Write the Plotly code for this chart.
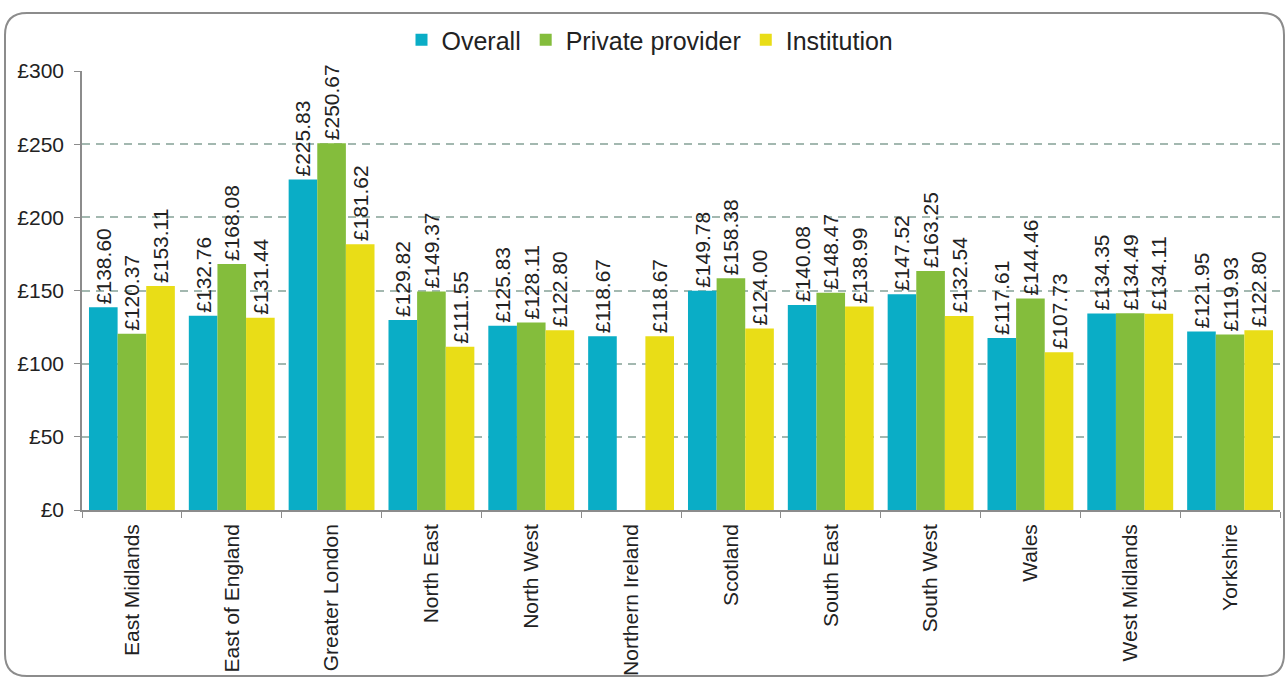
import plotly.graph_objects as go

regions = ["East Midlands", "East of England", "Greater London", "North East", "North West",
           "Northern Ireland", "Scotland", "South East", "South West", "Wales",
           "West Midlands", "Yorkshire"]
overall = [138.60, 132.76, 225.83, 129.82, 125.83, 118.67, 149.78, 140.08, 147.52, 117.61, 134.35, 121.95]
private_provider = [120.37, 168.08, 250.67, 149.37, 128.11, None, 158.38, 148.47, 163.25, 144.46, 134.49, 119.93]
institution = [153.11, 131.44, 181.62, 111.55, 122.80, 118.67, 124.00, 138.99, 132.54, 107.73, 134.11, 122.80]
y_ticks = [0, 50, 100, 150, 200, 250, 300]
y_ticktext = ["£0", "£50", "£100", "£150", "£200", "£250", "£300"]

series = [("Overall", overall, "#0AADC6"),
          ("Private provider", private_provider, "#84BD3C"),
          ("Institution", institution, "#E9DD17")]

W, H = 1286, 679
L, R, T, B = 82, 6, 71, 169
pw, ph = W - L - R, H - T - B

fig = go.Figure()
for name, vals, col in series:
    fig.add_trace(go.Bar(
        name=name, x=regions, y=vals, marker=dict(color=col, line=dict(width=0)),
        text=[("£%.2f" % v) if v is not None else "" for v in vals],
        textposition="outside", textangle=-90, cliponaxis=False, constraintext="none",
        textfont=dict(family="Liberation Sans, Arial", size=21, color="#222222"),
    ))

def px2paper(x, y):
    return (x - L) / pw, (H - B - y) / ph

# rounded border
x0, y0, x1, y1, r = 5, 13, 1284, 676, 22
def P(x, y):
    a, b = px2paper(x, y)
    return f"{a:.5f},{b:.5f}"
path = (f"M {P(x0 + r, y0)} L {P(x1 - r, y0)} Q {P(x1, y0)} {P(x1, y0 + r)} "
        f"L {P(x1, y1 - r)} Q {P(x1, y1)} {P(x1 - r, y1)} "
        f"L {P(x0 + r, y1)} Q {P(x0, y1)} {P(x0, y1 - r)} "
        f"L {P(x0, y0 + r)} Q {P(x0, y0)} {P(x0 + r, y0)} Z")
fig.add_shape(type="path", path=path, xref="paper", yref="paper",
              line=dict(color="#8C8C8C", width=2), layer="below")

fig.update_layout(
    width=W, height=H, margin=dict(l=L, r=R, t=T, b=B, autoexpand=False),
    paper_bgcolor="white", plot_bgcolor="white",
    barmode="group", bargap=0.14, bargroupgap=0,
    font=dict(family="Liberation Sans, Arial", color="#222222"),
    legend=dict(orientation="h", x=650 / W, xref="container", xanchor="center",
                y=(H - 40) / H, yref="container", yanchor="middle",
                font=dict(size=25), itemwidth=30, traceorder="normal",
                bgcolor="rgba(0,0,0,0)"),
    showlegend=True,
)
fig.update_xaxes(tickangle=-90, tickfont=dict(size=21), showline=True, linecolor="#8C8C8C",
                 linewidth=1.5, ticks="outside", tickson="boundaries", ticklen=6,
                 tickcolor="#8C8C8C", showgrid=False, automargin=False, ticklabelstandoff=4)
fig.update_yaxes(range=[0, 300], tickvals=y_ticks, ticktext=y_ticktext, tickfont=dict(size=21),
                 showline=True, linecolor="#8C8C8C", linewidth=1.5, ticks="outside", ticklen=6,
                 tickcolor="#8C8C8C", showgrid=True, gridcolor="#A3B8B0", griddash="8px,6px",
                 gridwidth=1.5, zeroline=False, automargin=False, ticklabelstandoff=6)

fig.write_html("out.html", config={"displayModeBar": False},
               post_script="document.body.style.margin='0';document.body.style.overflow='hidden';")
